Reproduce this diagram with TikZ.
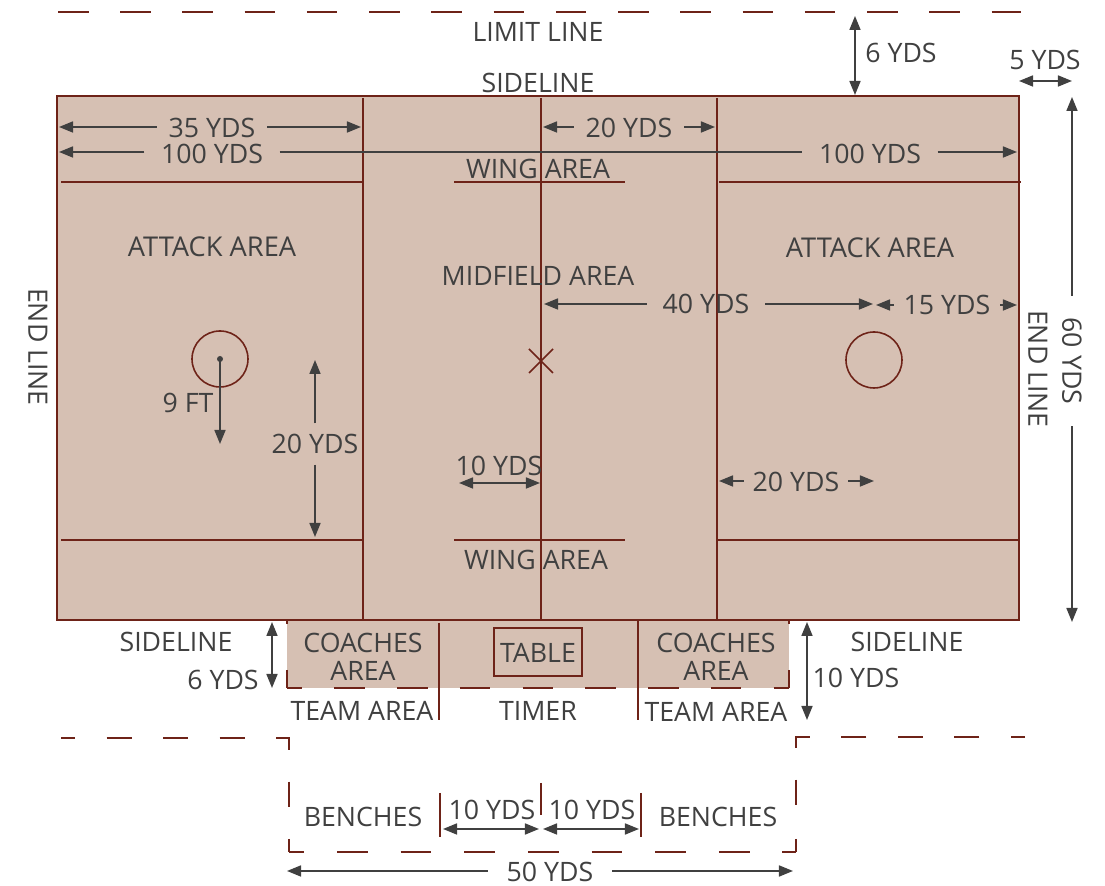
\documentclass[tikz,border=0pt]{standalone}
\usepackage{fontspec}
\setmainfont{Open Sans}
\usepackage{xcolor}
\usepackage{tikz}
\usetikzlibrary{arrows.meta}
\definecolor{fieldtan}{HTML}{D6C0B3}
\definecolor{fieldred}{HTML}{6E2318}
\definecolor{dimgrey}{HTML}{404040}

\begin{document}
\begin{tikzpicture}[x=0.01cm,y=-0.01cm]
	\tikzstyle{every node}+=[inner sep=0pt,text=dimgrey,font=\fontsize{7.6}{8}\selectfont,align=center]
	\tikzstyle{redline}=[fieldred,line width=0.57pt]
	\tikzstyle{thinline}=[fieldred,line width=0.45pt]
	\tikzstyle{limitdash}=[fieldred,line width=0.57pt,line join=miter,dash pattern=on 0.305cm off 0.317cm]
	\tikzstyle{coachdash}=[fieldred,line width=0.57pt,dash pattern=on 0.305cm off 0.322cm,dash phase=0.15cm]
	\tikzstyle{benchdash}=[fieldred,line width=0.57pt,dash pattern=on 0.308cm off 0.328cm,dash phase=0.153cm]
	\tikzstyle{sidedash}=[fieldred,line width=0.57pt,line join=miter,dash pattern=on 0.25cm off 0.315cm,dash phase=0.11cm]
	\tikzstyle{dimline}=[dimgrey,line width=0.47pt,-{Triangle[length=0.14cm,width=0.11cm]}]
	\tikzstyle{dimboth}=[dimgrey,line width=0.47pt,{Triangle[length=0.14cm,width=0.11cm]}-{Triangle[length=0.14cm,width=0.11cm]}]
	\useasboundingbox (0,0) rectangle (1105,886);
	\fill [fieldtan] (57,96) rectangle (1019,620);
	\fill [fieldtan] (287,620) rectangle (789,688);
	\draw [redline] (57,96) rectangle (1019,620);
	\draw [redline] (363,98) -- (363,620);
	\draw [redline] (541,98) -- (541,620);
	\draw [redline] (717,98) -- (717,620);
	\draw [thinline] (61,182) -- (363,182);
	\draw [thinline] (454,182) -- (625,182);
	\draw [thinline] (719,182) -- (1021,182);
	\draw [thinline] (61,540) -- (364,540);
	\draw [thinline] (454,540) -- (625,540);
	\draw [thinline] (716,540) -- (1019,540);
	\draw [thinline] (220,359) circle (28);
	\draw [thinline] (874,360) circle (28);
	\draw [thinline] (529,349) -- (553,373);
	\draw [thinline] (529,373) -- (553,349);
	\fill [dimgrey] (220,359) circle (3);
	% limit lines
	\draw [limitdash] (58,12) -- (1021,12);
	\draw [sidedash] (61,738) -- (289,738) -- (289,807);
	\draw [sidedash] (1025,737) -- (796,737) -- (796,807);
	\draw [redline] (289,839) -- (289,852);
	\draw [redline] (796,839) -- (796,852);
	\draw [benchdash] (288.7,852) -- (796.3,852);
	% coaches and table
	\draw [coachdash] (286.7,688) -- (789.3,688);
	\draw [coachdash] (286.7,620) -- (789.3,620);
	\draw [redline] (287,670) -- (287,688);
	\draw [redline] (789,670) -- (789,688);
	\draw [redline] (287,620) -- (287,624);
	\draw [redline] (789,620) -- (789,624);
	\draw [redline] (439,623) -- (439,720);
	\draw [redline] (638,621) -- (638,720);
	\draw [redline] (494,628) rectangle (582,676);
	\draw [redline] (440,793) -- (440,837);
	\draw [redline] (541,783) -- (541,815);
	\draw [redline] (641,793) -- (641,837);
	% labels
	\node (limit) at (538,32) {LIMIT LINE};
	\node (sideTop) at (538,83) {SIDELINE};
	\node (wingTop) at (538,169) {WING AREA};
	\node (wingBot) at (536,560) {WING AREA};
	\node (attackL) at (212,247) {\fontsize{7.75}{8}\selectfont ATTACK AREA};
	\node (attackR) at (870,248) {\fontsize{7.75}{8}\selectfont ATTACK AREA};
	\node (mid) at (538,276) {MIDFIELD AREA};
	\node (endL) at (38,347) [rotate=-90] {END LINE};
	\node (endR) at (1038,369) [rotate=-90] {END LINE};
	\node (nineFt) at (188,403) {9 FT};
	\node (sideL) at (176,642) {SIDELINE};
	\node (sideR) at (907,642) {SIDELINE};
	\node (coachL) at (363,657) {COACHES\\AREA};
	\node (coachR) at (716,657) {COACHES\\AREA};
	\node (table) at (538,653) {TABLE};
	\node (teamL) at (362,711) {TEAM AREA};
	\node (teamR) at (716,712) {TEAM AREA};
	\node (timer) at (538,711) {TIMER};
	\node (benchL) at (363,817) {BENCHES};
	\node (benchR) at (718,817) {BENCHES};
	% dimensions with the label in the line
	\node (d35) at (212,128) [inner xsep=0.11cm] {35 YDS};
	\coordinate (d35a) at (59,127);
	\coordinate (d35b) at (361,127);
	\draw [dimline] (d35.west |- d35a) -- (d35a);
	\draw [dimline] (d35.east |- d35b) -- (d35b);
	\node (d100l) at (212,154) [inner xsep=0.16cm] {100 YDS};
	\node (d100r) at (870,154) [inner xsep=0.16cm] {100 YDS};
	\coordinate (d100a) at (59,152);
	\coordinate (d100b) at (1017,152);
	\draw [dimline] (d100l.west |- d100a) -- (d100a);
	\draw [dimline] (d100r.east |- d100b) -- (d100b);
	\draw [dimgrey,line width=0.47pt] (d100l.east |- d100a) -- (d100r.west |- d100b);
	\node (d20top) at (629,128) [inner xsep=0.11cm] {20 YDS};
	\coordinate (d20a) at (543,127);
	\coordinate (d20b) at (715,127);
	\draw [dimline] (d20top.west |- d20a) -- (d20a);
	\draw [dimline] (d20top.east |- d20b) -- (d20b);
	\node (d40) at (706,304) [inner xsep=0.15cm] {40 YDS};
	\coordinate (d40a) at (544,304);
	\coordinate (d40b) at (873,304);
	\draw [dimline] (d40) -- (d40a);
	\draw [dimline] (d40) -- (d40b);
	\node (d15) at (947,305) [inner xsep=0.09cm] {15 YDS};
	\coordinate (d15a) at (876,305);
	\coordinate (d15b) at (1017,305);
	\draw [dimline] (d15) -- (d15a);
	\draw [dimline] (d15) -- (d15b);
	\node (d20v) at (315,444) [inner ysep=0.1cm] {20 YDS};
	\coordinate (d20c) at (315,360);
	\coordinate (d20d) at (315,537);
	\draw [dimline] (d20v) -- (d20c);
	\draw [dimline] (d20v) -- (d20d);
	\node (d20r) at (796,482) [inner xsep=0.08cm] {20 YDS};
	\coordinate (d20e) at (719,481);
	\coordinate (d20f) at (874,481);
	\draw [dimline] (d20r.west |- d20e) -- (d20e);
	\draw [dimline] (d20r.east |- d20f) -- (d20f);
	\node (d60) at (1072,361) [rotate=-90,inner xsep=0.21cm] {60 YDS};
	\coordinate (d60a) at (1072,97);
	\coordinate (d60b) at (1072,622);
	\draw [dimline] (d60) -- (d60a);
	\draw [dimline] (d60) -- (d60b);
	\node (d50) at (550,872) [inner xsep=0.18cm] {50 YDS};
	\coordinate (d50a) at (287,871);
	\coordinate (d50b) at (793,871);
	\draw [dimline] (d50.west |- d50a) -- (d50a);
	\draw [dimline] (d50.east |- d50b) -- (d50b);
	% dimensions with the label beside the line
	\coordinate (nineA) at (220,359);
	\coordinate (nineB) at (220,444);
	\draw [dimline] (nineA) -- (nineB);
	\node (d10mid) at (499,466) {10 YDS};
	\coordinate (d10a) at (459,483);
	\coordinate (d10b) at (540,483);
	\draw [dimboth] (d10a) -- (d10b);
	\node (d6top) at (901,53) {6 YDS};
	\coordinate (d6a) at (855,16);
	\coordinate (d6b) at (855,95);
	\draw [dimboth] (d6a) -- (d6b);
	\node (d5) at (1045,60) {5 YDS};
	\coordinate (d5a) at (1019,81);
	\coordinate (d5b) at (1072,81);
	\draw [dimboth] (d5a) -- (d5b);
	\node (d6low) at (223,680) {6 YDS};
	\coordinate (d6c) at (272,622);
	\coordinate (d6d) at (272,688);
	\draw [dimboth] (d6c) -- (d6d);
	\node (d10r) at (856,678) {10 YDS};
	\coordinate (d10c) at (807,622);
	\coordinate (d10d) at (807,720);
	\draw [dimboth] (d10c) -- (d10d);
	\node (d10l) at (492,810) {10 YDS};
	\node (d10m) at (592,810) {10 YDS};
	\coordinate (d10e) at (443,829);
	\coordinate (d10f) at (539,829);
	\coordinate (d10g) at (543,829);
	\coordinate (d10h) at (639,829);
	\draw [dimboth] (d10e) -- (d10f);
	\draw [dimboth] (d10g) -- (d10h);
\end{tikzpicture}
\end{document}
